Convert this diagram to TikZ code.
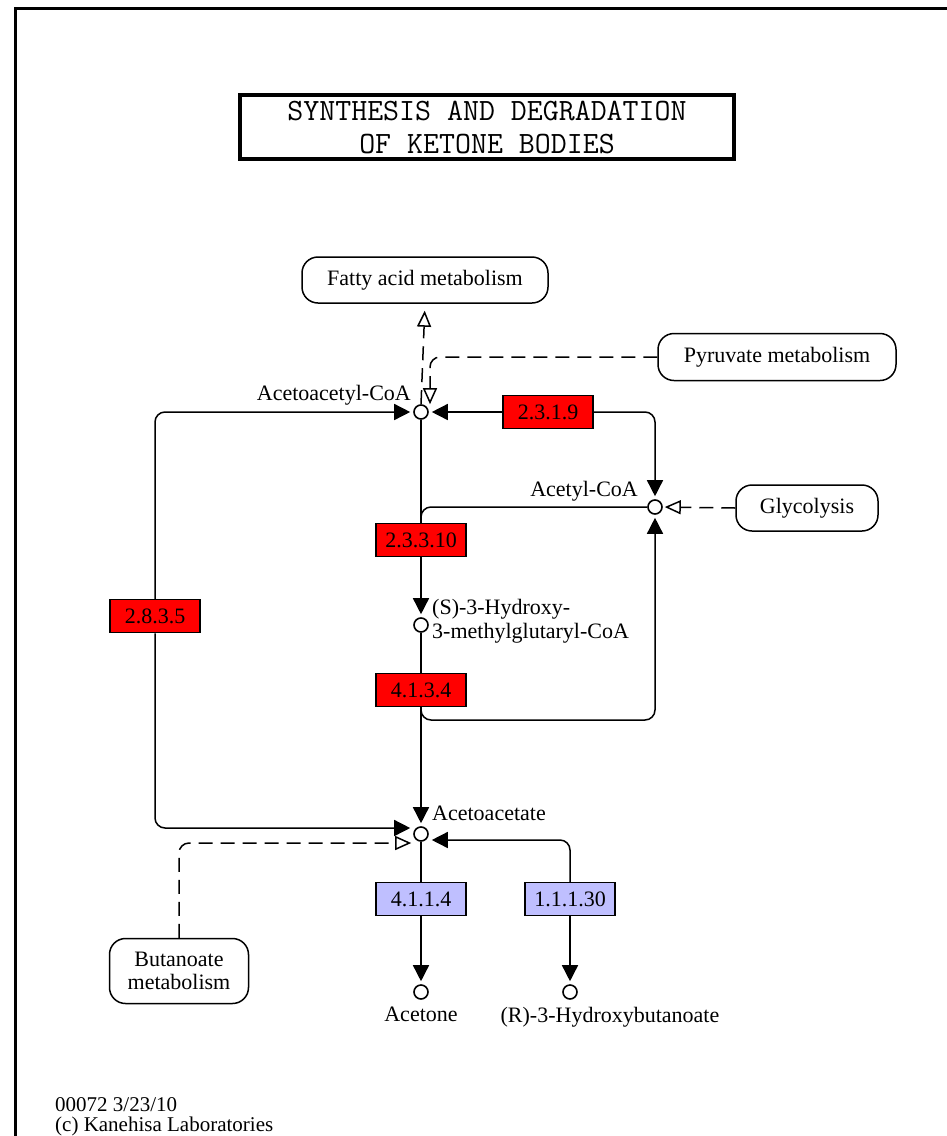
\documentclass[tikz,border=0pt]{standalone}
\usepackage{fontspec}
\setmainfont{Liberation Serif}
\usetikzlibrary{arrows.meta, positioning}
\definecolor{ecred}{RGB}{255,0,0}
\definecolor{ecblue}{RGB}{191,191,255}
\tikzset{
  enzyme/.style={rectangle, draw=black, fill=ecred, minimum width=90pt,
    minimum height=33pt, inner sep=0pt, line width=1.5pt,
    font=\fontsize{22}{23}\selectfont},
  enzymeblue/.style={enzyme, fill=ecblue},
  compound/.style={circle, draw=black, fill=white, minimum size=14pt,
    inner sep=0pt, line width=1.6pt},
  mapbox/.style={rectangle, draw=black, rounded corners=16pt, line width=1.5pt,
    inner sep=0pt, align=center, font=\fontsize{22}{23}\selectfont},
  cpdlabel/.style={inner sep=0pt, align=left, font=\fontsize{22}{24}\selectfont},
  reaction/.style={line width=1.5pt, -{Triangle[length=16pt,width=16pt]},
    rounded corners=10pt, shorten >=3pt},
  link/.style={line width=1.5pt, dash pattern=on 14pt off 8pt,
    -{Triangle[open,length=16pt,width=14pt]}, rounded corners=10pt},
  line/.style={line width=1.5pt, rounded corners=10pt}
}
\begin{document}
\begin{tikzpicture}[x=1pt, y=-1pt]
  \useasboundingbox (0,0) rectangle (947,1136);
  % frame
  \draw[line width=3pt] (947,8) -- (15,8) -- (15,1136);

  % title
  \node[draw, line width=4.5pt, minimum width=494pt, minimum height=64pt,
    inner sep=0pt, align=center, font=\ttfamily\fontsize{31}{33}\selectfont]
    (title) at (487,127) {SYNTHESIS AND DEGRADATION\\OF KETONE BODIES};

  % pathway maps
  \node[mapbox, minimum width=246pt, minimum height=46pt] (fatty) at (425,280) {Fatty acid metabolism};
  \node[mapbox, minimum width=238pt, minimum height=47pt] (pyr) at (777,357) {Pyruvate metabolism};
  \node[mapbox, minimum width=142pt, minimum height=46pt] (glyc) at (807,508) {Glycolysis};
  \node[mapbox, minimum width=139pt, minimum height=65pt] (buta) at (179,971) {Butanoate\\metabolism};

  % compounds
  \node[compound] (aacoa) at (421,412) {};
  \node[compound] (acoa) at (655,507) {};
  \node[compound] (hmg) at (421,625) {};
  \node[compound] (acac) at (421,834) {};
  \node[compound] (acetone) at (421,992) {};
  \node[compound] (rhb) at (570,992) {};
  \node[cpdlabel, anchor=base east] (aacoalbl) at (411,400) {Acetoacetyl-CoA};
  \node[cpdlabel, anchor=base east] (acoalbl) at (638,496) {Acetyl-CoA};
  \node[cpdlabel, anchor=west] (hmglbl) at (432,621) {(S)-3-Hydroxy-\\3-methylglutaryl-CoA};
  \node[cpdlabel, anchor=base west] (acaclbl) at (432,820) {Acetoacetate};
  \node[cpdlabel, anchor=base] (acetonelbl) at (421,1021) {Acetone};
  \node[cpdlabel, anchor=base] (rhblbl) at (610,1022) {(R)-3-Hydroxybutanoate};

  % enzymes
  \node[enzyme] (e2319) at (548,412) {2.3.1.9};
  \node[enzyme] (e23310) at (421,540) {2.3.3.10};
  \node[enzyme] (e2835) at (155,616) {2.8.3.5};
  \node[enzyme] (e4134) at (421,690) {4.1.3.4};
  \node[enzymeblue] (e4114) at (421,899) {4.1.1.4};
  \node[enzymeblue] (e11130) at (570,899) {1.1.1.30};

  % reactions
  \draw[reaction] (e2319.west) -- (aacoa.east);
  \draw[reaction] (e2319.east) -| (acoa.north);
  \draw[reaction] (e2835.north) |- (aacoa.west);
  \draw[reaction] (e2835.south) |- ([yshift=6pt]acac.west);
  \draw[line] (aacoa.south) -- (e23310.north);
  \draw[line] (acoa.west) -| (e23310.north);
  \draw[reaction] (e23310.south) -- (hmg.north);
  \draw[line] (hmg.south) -- (e4134.north);
  \draw[reaction] (e4134.south) -- (acac.north);
  \coordinate (loopr) at (655,720);
  \draw[reaction] (e4134.south) |- (loopr) -- (acoa.south);
  \draw[line] (acac.south) -- (e4114.north);
  \draw[reaction] (e4114.south) -- (acetone.north);
  \draw[reaction] (e11130.north) |- ([yshift=-6pt]acac.east);
  \draw[reaction] (e11130.south) -- (rhb.north);

  % links to other maps
  \draw[link, shorten >=7pt] (aacoa.north) -- (fatty.south);
  \draw[link] (pyr.west) -| ([xshift=9pt]aacoa.north);
  \draw[link, shorten >=2pt] (glyc.west) -- (acoa.east);
  \draw[link, shorten >=2pt] (buta.north) |- ([yshift=-9pt]acac.west);

  % footer
  \node[cpdlabel, anchor=base west, font=\fontsize{21}{22}\selectfont] (mapid) at (55,1111) {00072 3/23/10};
  \node[cpdlabel, anchor=base west, font=\fontsize{21}{22}\selectfont] (copy) at (55,1131) {(c) Kanehisa Laboratories};
\end{tikzpicture}
\end{document}
